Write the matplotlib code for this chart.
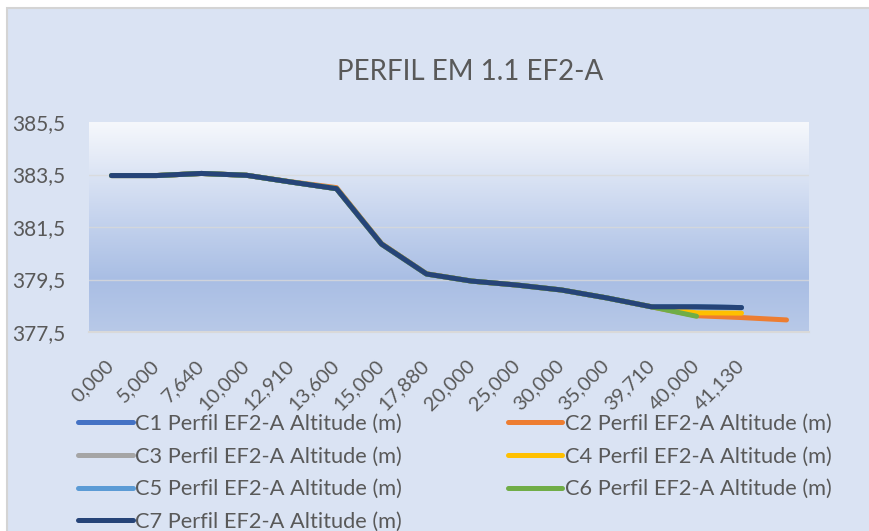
import numpy as np
import matplotlib
matplotlib.use("Agg")
import matplotlib.pyplot as plt
from matplotlib.colors import LinearSegmentedColormap
from matplotlib.patches import Rectangle

plt.rcParams['font.family'] = ['Lato', 'DejaVu Sans']

# Data
distances = ["0,000", "5,000", "7,640", "10,000", "12,910", "13,600", "15,000", "17,880",
             "20,000", "25,000", "30,000", "35,000", "39,710", "40,000", "41,130", ""]

nan = np.nan
common = [383.46, 383.46, 383.54, 383.47, 383.21, 382.96, 380.85, 379.71,
          379.44, 379.29, 379.10, 378.80, 378.46]

c1 = common + [378.46, 378.43, nan]
c2 = [383.46, 383.46, 383.54, 383.47, 383.22, 383.00, 380.87, 379.72,
      379.44, 379.29, 379.10, 378.80, 378.46, 378.12, 378.05, 377.96]
c3 = common + [378.46, 378.43, nan]
c4 = common + [378.23, 378.22, nan]
c5 = common + [378.46, 378.43, nan]
c6 = common + [378.10, nan, nan]
c7 = common + [378.46, 378.43, nan]

series = [
    ("C1 Perfil EF2-A Altitude (m)", c1, "#4472C4"),
    ("C2 Perfil EF2-A Altitude (m)", c2, "#ED7D31"),
    ("C3 Perfil EF2-A Altitude (m)", c3, "#A5A5A5"),
    ("C4 Perfil EF2-A Altitude (m)", c4, "#FFC000"),
    ("C5 Perfil EF2-A Altitude (m)", c5, "#5B9BD5"),
    ("C6 Perfil EF2-A Altitude (m)", c6, "#70AD47"),
    ("C7 Perfil EF2-A Altitude (m)", c7, "#264478"),
]

W, H = 870, 531
fig = plt.figure(figsize=(W / 100, H / 100), dpi=100, facecolor="white")

# chart area background
bg = Rectangle((7 / W, -0.02), 1.0, 1 - 8 / H + 0.02, transform=fig.transFigure,
               facecolor="#DAE3F3", edgecolor="#D4D4D4", lw=1.5, zorder=-10)
fig.patches.append(bg)

ax = fig.add_axes([89 / W, (H - 332) / H, 720 / W, 210 / H])
ax.patch.set_alpha(0)

# gradient plot area
cmap = LinearSegmentedColormap.from_list(
    "plotbg", [(0, "#F6F8FC"), (0.45, "#C6D4EE"), (0.75, "#A9BEE4"), (1, "#B8C9E8")])
grad = np.linspace(0, 1, 256).reshape(-1, 1)
ax.imshow(grad, cmap=cmap, aspect="auto", origin="upper",
          extent=[-0.5, 15.5, 377.5, 385.5], zorder=0)

for yv in [379.5, 381.5, 383.5]:
    ax.axhline(yv, color="#D9D9D9", lw=1, alpha=0.8, zorder=1)

x = np.arange(len(distances))
handles = []
for name, vals, col in series:
    ln, = ax.plot(x, vals, color=col, lw=3.6, label=name, solid_capstyle="round",
                  solid_joinstyle="round", zorder=3)
    handles.append(ln)

ax.set_xlim(-0.5, 15.5)
ax.set_ylim(377.5, 385.5)
ax.set_yticks([377.5, 379.5, 381.5, 383.5, 385.5])
ax.set_yticklabels(["377,5", "379,5", "381,5", "383,5", "385,5"])
ax.set_xticks(x)
ax.set_xticklabels(distances, rotation=45, ha="right", va="center", rotation_mode="anchor")
ax.tick_params(axis="both", length=0, labelsize=15, labelcolor="#595959")
ax.tick_params(axis="x", labelsize=14.5, pad=22)
ax.tick_params(axis="y", pad=17)

for s in ["top", "left", "right"]:
    ax.spines[s].set_visible(False)
ax.spines["bottom"].set_color("#D9D9D9")
ax.spines["bottom"].set_linewidth(1.5)

fig.text(0.54, 1 - 72 / H, "PERFIL EM 1.1 EF2-A", ha="center", va="center",
         fontsize=20, color="#595959")

order = [0, 2, 4, 6, 1, 3, 5]
fig.legend([handles[i] for i in order], [series[i][0] for i in order],
           loc="upper left", bbox_to_anchor=(78 / W, 1 - 414 / H), ncol=2,
           frameon=False, fontsize=15.7, labelcolor="#595959",
           handlelength=2.5, handletextpad=0.12, columnspacing=4.85,
           labelspacing=0.58, borderpad=0, borderaxespad=0)

fig.savefig("out.png", dpi=100, facecolor=fig.get_facecolor())
